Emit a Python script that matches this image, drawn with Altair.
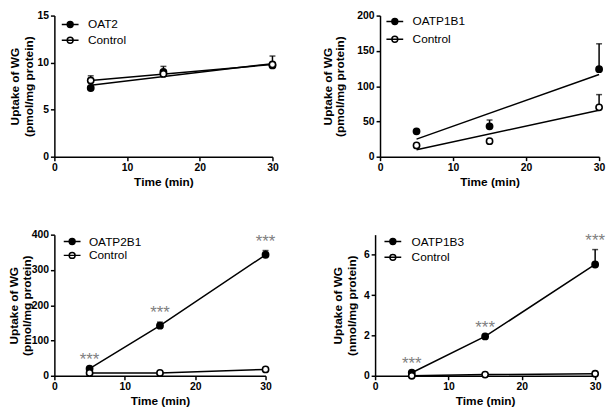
import altair as alt
import pandas as pd

# ---- data ----
TIME_MIN = [5, 15, 30]

OAT2 = [7.3, 9.0, 9.7]
OAT2_ERR = [0.0, 0.6, 1.0]
OAT2_CONTROL = [8.1, 8.8, 9.8]
OAT2_CONTROL_ERR = [0.5, 0.3, 0.0]

OATP1B1 = [36, 43, 124]
OATP1B1_ERR = [0, 9, 36]
OATP1B1_CONTROL = [16, 22, 70]
OATP1B1_CONTROL_ERR = [0, 0, 18]

OATP2B1 = [20, 142, 343]
OATP2B1_ERR = [0, 10, 12]
OATP2B1_CONTROL = [8, 8, 18]
OATP2B1_CONTROL_ERR = [0, 0, 0]

OATP1B3 = [0.15, 1.95, 5.52]
OATP1B3_ERR = [0.0, 0.0, 0.74]
OATP1B3_CONTROL = [0.0, 0.06, 0.1]
OATP1B3_CONTROL_ERR = [0.0, 0.0, 0.0]

STARS = ["***", "***", "***"]

X_TICKS = [0, 10, 20, 30]

FONT = "Liberation Sans"
LEGEND_PATH = "M-1.7,0L1.7,0M-0.6,0A0.6,0.6,0,1,0,0.6,0A0.6,0.6,0,1,0,-0.6,0Z"


def make_frame(name, vals, errs, cvals, cerrs):
    rows = []
    for t, v, e in zip(TIME_MIN, vals, errs):
        rows.append(dict(t=t, v=v, err=e, top=v + e, series=name))
    for t, v, e in zip(TIME_MIN, cvals, cerrs):
        rows.append(dict(t=t, v=v, err=e, top=v + e, series="Control"))
    return pd.DataFrame(rows)


def panel(name, vals, errs, cvals, cerrs, unit, ymax, yticks, fit, stars,
          w, h, lx, ly, rowpad, loff, tx, tlh):
    df = make_frame(name, vals, errs, cvals, cerrs)
    base = alt.Chart(df)
    xs = alt.Scale(domain=[0, 30], nice=False)
    ys = alt.Scale(domain=[0, ymax], nice=False)
    xax = alt.Axis(values=X_TICKS, title="Time (min)")
    yax = alt.Axis(values=yticks, title=["Uptake of WG", f"({unit}/mg protein)"],
                   titleX=tx, titleLineHeight=tlh, titleAngle=270,
                   titleBaseline="bottom")

    def X(f="t"):
        return alt.X(f"{f}:Q", scale=xs, axis=xax)

    def Y(f="v"):
        return alt.Y(f"{f}:Q", scale=ys, axis=yax)

    fill = alt.Fill(
        "series:N",
        scale=alt.Scale(domain=[name, "Control"], range=["black", "white"]),
        legend=alt.Legend(
            title=None, orient="none", legendX=lx, legendY=ly, padding=0,
            symbolType=LEGEND_PATH, symbolSize=100, symbolStrokeColor="black",
            symbolStrokeWidth=1.5, symbolOpacity=1, labelFont=FONT,
            labelFontSize=12, labelFontWeight="normal", labelColor="black",
            labelOffset=loff, rowPadding=rowpad,
        ),
    )

    if fit == "regression":
        line = base.transform_regression("t", "v", groupby=["series"]).mark_line(
            color="black", strokeWidth=1.5
        ).encode(x=X(), y=Y(), detail="series:N")
    else:
        line = base.mark_line(color="black", strokeWidth=1.5).encode(
            x=X(), y=Y(), detail="series:N"
        )
    bars = base.transform_filter("datum.err > 0").mark_rule(
        color="black", strokeWidth=1.5
    ).encode(x=X(), y=Y(), y2="top:Q")
    caps = base.transform_filter("datum.err > 0").mark_tick(
        color="black", orient="horizontal", size=6, thickness=1.5
    ).encode(x=X(), y=Y("top"))
    pts = base.mark_point(
        shape="circle", size=40, stroke="black", strokeWidth=1.6, opacity=1
    ).encode(x=X(), y=Y(), fill=fill)
    layers = [line, bars, caps, pts]
    if stars:
        sdf = pd.DataFrame(dict(t=TIME_MIN, top=[v + e for v, e in zip(vals, errs)], s=STARS))
        txt = alt.Chart(sdf).mark_text(
            font=FONT, fontSize=17, color="#808080", baseline="alphabetic", dy=-4
        ).encode(x=X(), y=Y("top"), text="s:N")
        layers.append(txt)
    return alt.layer(*layers).properties(width=w, height=h)


p1 = panel("OAT2", OAT2, OAT2_ERR, OAT2_CONTROL, OAT2_CONTROL_ERR, "pmol", 15,
           [0, 5, 10, 15], "regression", False, 221, 143, 10, 3, 4, 12, -33, 14)
p2 = panel("OATP1B1", OATP1B1, OATP1B1_ERR, OATP1B1_CONTROL, OATP1B1_CONTROL_ERR,
           "pmol", 200, [0, 50, 100, 150, 200], "regression", False, 222, 143, 9, 0, 6, 12, -46, 12)
p3 = panel("OATP2B1", OATP2B1, OATP2B1_ERR, OATP2B1_CONTROL, OATP2B1_CONTROL_ERR,
           "pmol", 400, [0, 100, 200, 300, 400], "line", True, 214, 143, 12, 1, 2, 11, -34, 12.5)
p4 = panel("OATP1B3", OATP1B3, OATP1B3_ERR, OATP1B3_CONTROL, OATP1B3_CONTROL_ERR,
           "nmol", 7, [0, 2, 4, 6], "line", True, 223, 143, 12, 1, 4, 13, -31, 14)

row1 = alt.hconcat(p1, p2, spacing=109, bounds="flush").resolve_scale(
    fill="independent").resolve_legend(fill="independent")
row2 = alt.hconcat(p3, p4, spacing=111, bounds="flush").resolve_scale(
    fill="independent").resolve_legend(fill="independent")

chart = alt.vconcat(row1, row2, spacing=222, bounds="flush").resolve_scale(
    fill="independent"
).resolve_legend(fill="independent").properties(
    padding=0
).configure_view(stroke=None).configure_axis(
    grid=False,
    domainColor="black",
    domainWidth=1.5,
    tickColor="black",
    tickWidth=1.5,
    tickSize=4,
    labelFont=FONT,
    labelFontSize=10.5,
    labelFontWeight="bold",
    labelColor="black",
    labelPadding=2,
    titleFont=FONT,
    titleFontSize=12,
    titleFontWeight="bold",
    titleColor="black",
    titlePadding=4,
).configure_axisX(labelFlush=False)

chart.save("out.html", embed_options={"renderer": "svg", "actions": False})
